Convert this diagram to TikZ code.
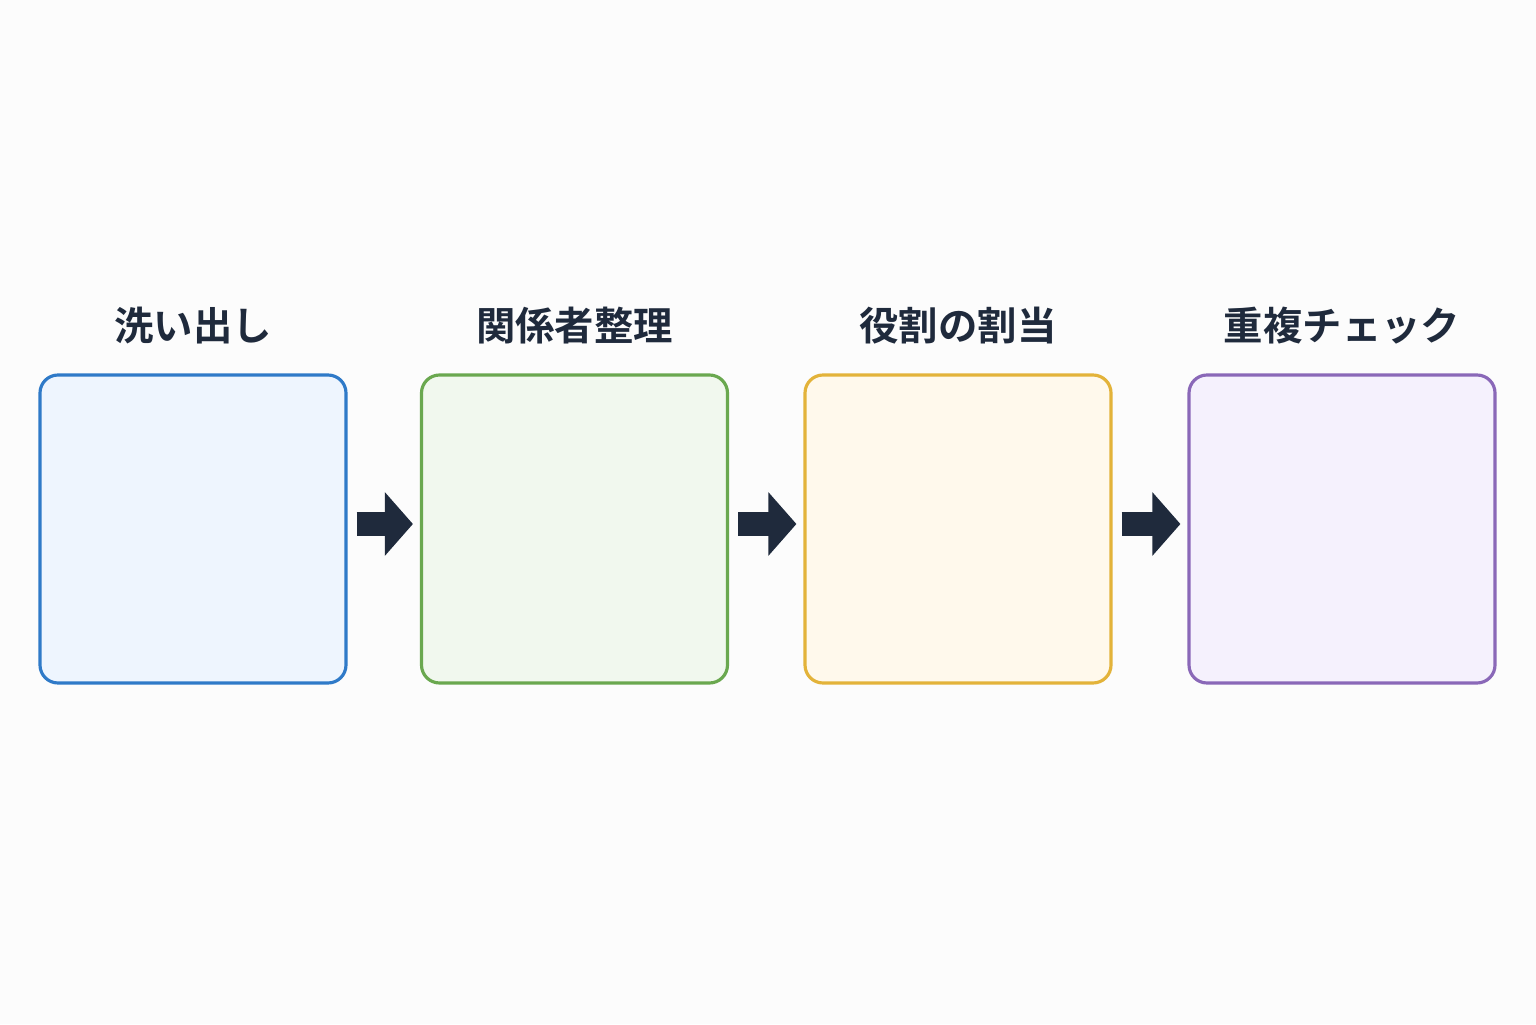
\documentclass[tikz,border=0pt]{standalone}
\usepackage{fontspec}
\newfontfamily\jpfont{Noto Sans CJK JP}[BoldFont={Noto Sans CJK JP Bold}]
\usetikzlibrary{arrows.meta,positioning}
\definecolor{ink}{HTML}{1F2A3C}
\definecolor{blueln}{HTML}{2F7AC8}\definecolor{bluebg}{HTML}{EEF5FE}
\definecolor{greenln}{HTML}{6AA84F}\definecolor{greenbg}{HTML}{F1F8EE}
\definecolor{yellowln}{HTML}{E3B33A}\definecolor{yellowbg}{HTML}{FFF9EC}
\definecolor{purpleln}{HTML}{8A68B8}\definecolor{purplebg}{HTML}{F5F1FD}
\tikzset{
  step/.style={draw=#1ln, fill=#1bg, line width=0.9pt, rounded corners=0.18cm,
    minimum width=3.06cm, minimum height=3.08cm, inner sep=0pt},
  title/.style={font=\jpfont\bfseries\fontsize{11.2pt}{13pt}\selectfont, text=ink},
  flow/.style={ink, line width=0.24cm, -{Triangle[length=0.28cm,width=0.62cm]}}
}
\begin{document}
\begin{tikzpicture}
\useasboundingbox (0,0) rectangle (15.36,10.24);
\fill[white!98!gray] (0,0) rectangle (15.36,10.24);

\node (wash)  [step=blue]   at (1.93,4.95) {};
\node (party) [step=green]  at (5.745,4.95) {};
\node (role)  [step=yellow] at (9.58,4.95) {};
\node (check) [step=purple] at (13.42,4.95) {};

\node [title, above=0.17cm of wash]  {洗い出し};
\node [title, above=0.17cm of party] {関係者整理};
\node [title, above=0.17cm of role]  {役割の割当};
\node [title, above=0.17cm of check] {重複チェック};

\draw[flow] ([shift={(0.09,0.05)}]wash.east)  -- ([shift={(-0.07,0.05)}]party.west);
\draw[flow] ([shift={(0.09,0.05)}]party.east) -- ([shift={(-0.07,0.05)}]role.west);
\draw[flow] ([shift={(0.09,0.05)}]role.east)  -- ([shift={(-0.07,0.05)}]check.west);
\end{tikzpicture}
\end{document}
